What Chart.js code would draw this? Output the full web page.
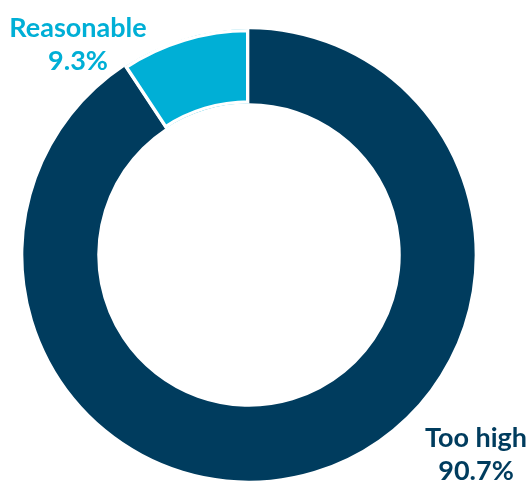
<!DOCTYPE html>
<html>
<head>
<meta charset="utf-8">
<script src="https://cdn.jsdelivr.net/npm/chart.js@4"></script>
<style>
    body { margin: 0; background: #fff; }
    #wrap { width: 531px; height: 481px; position: relative; }
</style>
</head>
<body>
<div id="wrap"><canvas id="priceChart"></canvas></div>
<script>
const categories = ['Too high', 'Reasonable'];
const shares = [90.7, 9.3];
const colors = ['#003c5e', '#00afd6'];

// text labels drawn next to the ring
const labelSpots = [
    { x: 476, y: 447 },
    { x: 78, y: 37 }
];

const sliceLabels = {
    id: 'sliceLabels',
    afterDraw(chart) {
        const ctx = chart.ctx;
        ctx.save();
        ctx.font = 'bold 27px Lato';
        ctx.textAlign = 'center';
        ctx.textBaseline = 'alphabetic';
        categories.forEach(function(name, i) {
            const spot = labelSpots[i];
            ctx.fillStyle = colors[i];
            ctx.fillText(name, spot.x, spot.y);
            ctx.fillText(shares[i].toFixed(1) + '%', spot.x, spot.y + 33);
        });
        ctx.restore();
    }
};

const ctx = document.getElementById('priceChart').getContext('2d');
const priceChart = new Chart(ctx, {
    type: 'doughnut',
    data: {
        labels: categories,
        datasets: [{
            data: shares,
            backgroundColor: colors,
            borderColor: ['#003c5e', '#ffffff'],
            borderWidth: [0, 3],
            borderAlign: 'inner'
        }]
    },
    options: {
        responsive: true,
        maintainAspectRatio: false,
        animation: false,
        cutout: '67%',
        layout: {
            padding: { top: 29, bottom: 0, left: 23, right: 56 }
        },
        plugins: {
            legend: { display: false },
            tooltip: { enabled: false }
        }
    },
    plugins: [sliceLabels]
});
</script>
</body>
</html>
